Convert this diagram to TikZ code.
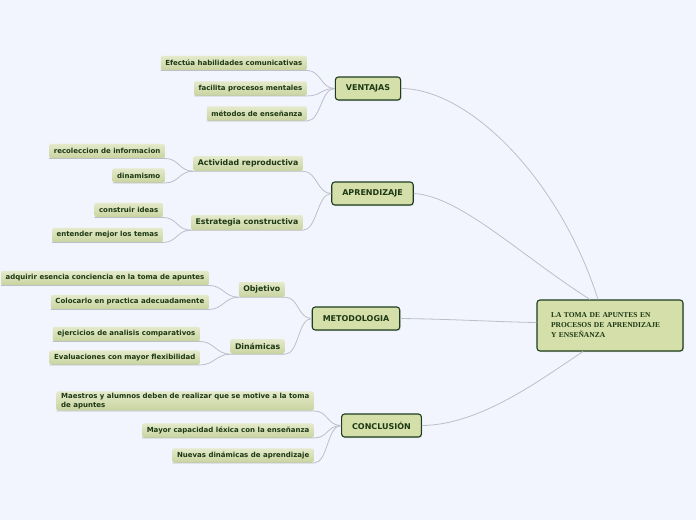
\documentclass[tikz,border=0pt]{standalone}
\usepackage{fontspec}
\setmainfont{DejaVu Sans}
\newfontfamily\titlefont{Liberation Serif}
\usepackage{tikz}
\usetikzlibrary{positioning,shadows}

\definecolor{paper}{HTML}{F2F5FD}
\definecolor{topicfill}{HTML}{D5DFA9}
\definecolor{topicdraw}{HTML}{1E3D1E}
\definecolor{leaftop}{HTML}{E4EACB}
\definecolor{leafbot}{HTML}{C9D39F}
\definecolor{ink}{HTML}{1C3814}
\definecolor{linkgray}{HTML}{BBBFC8}

\begin{document}
\begin{tikzpicture}[
    x=1pt, y=1pt,
    topic/.style={rectangle, draw=topicdraw, line width=1.1pt, fill=topicfill, rounded corners=3pt, minimum height=23pt, inner xsep=10.5pt, text=ink, font=\fontsize{8}{9}\selectfont\bfseries, drop shadow={shadow xshift=1pt, shadow yshift=-1pt, opacity=0.25}},
    central/.style={topic, minimum width=146pt, minimum height=51pt, text width=118pt, align=left, font=\titlefont\fontsize{7.5}{10}\selectfont\bfseries},
    subtopic/.style={rectangle, rounded corners=2pt, top color=leaftop, bottom color=leafbot, minimum height=15pt, inner xsep=4.5pt, inner ysep=2pt, text=ink, font=\fontsize{7.8}{9}\selectfont\bfseries},
    leaf/.style={subtopic, minimum height=14.5pt, font=\fontsize{7}{8.7}\selectfont\bfseries},
    link/.style={draw=linkgray, line width=0.8pt}
]
    \useasboundingbox (0,0) rectangle (696,-520);
    \fill[paper] (0,0) rectangle (696,-520);

    % central and main topics
    \node (lt) [central] at (610,-325.5) {LA TOMA DE APUNTES EN\\PROCESOS DE APRENDIZAJE\\Y ENSEÑANZA};
    \node (ventajas) [topic] at (368,-88.5) {VENTAJAS};
    \node (aprendizaje) [topic] at (372.5,-193.5) {APRENDIZAJE};
    \node (metodologia) [topic] at (356,-318.5) {METODOLOGIA};
    \node (conclusion) [topic] at (381.5,-425.5) {CONCLUSIÓN};

    % ventajas
    \node (v1) [leaf, anchor=east] at (307,-63) {Efectúa habilidades comunicativas};
    \node (v2) [leaf, anchor=east] at (307,-88.5) {facilita procesos mentales};
    \node (v3) [leaf, anchor=east] at (307,-113.5) {métodos de enseñanza};

    % aprendizaje
    \node (ar) [subtopic, anchor=east] at (303,-163.5) {Actividad reproductiva};
    \node (ec) [subtopic, anchor=east] at (303,-222.5) {Estrategia constructiva};
    \node (r1) [leaf, anchor=east] at (165,-151) {recoleccion de informacion};
    \node (r2) [leaf, anchor=east] at (165,-175.5) {dinamismo};
    \node (c1) [leaf, anchor=east] at (163,-210) {construir ideas};
    \node (c2) [leaf, anchor=east] at (163,-235) {entender mejor los temas};

    % metodologia
    \node (obj) [subtopic, anchor=east] at (285,-289.5) {Objetivo};
    \node (din) [subtopic, anchor=east] at (285,-346.5) {Dinámicas};
    \node (o1) [leaf, anchor=east] at (209,-278) {adquirir esencia conciencia en la toma de apuntes};
    \node (o2) [leaf, anchor=east] at (209,-302) {Colocarlo en practica adecuadamente};
    \node (d1) [leaf, anchor=east] at (200,-334) {ejercicios de analisis comparativos};
    \node (d2) [leaf, anchor=east] at (200,-357.5) {Evaluaciones con mayor flexibilidad};

    % conclusion
    \node (m1) [leaf, anchor=east, align=left] at (314,-401) {Maestros y alumnos deben de realizar que se motive a la toma\\de apuntes};
    \node (m2) [leaf, anchor=east] at (314,-430.5) {Mayor capacidad léxica con la enseñanza};
    \node (m3) [leaf, anchor=east] at (314,-455.5) {Nuevas dinámicas de aprendizaje};

    % links to the centre
    \draw [link] (ventajas.east) .. controls (470,-89) and (560,-180) .. ([xshift=-12pt]lt.north);
    \draw [link] (aprendizaje.east) .. controls (460,-196) and (520,-255) .. ([xshift=-20pt]lt.north);
    \draw [link] (metodologia.east) .. controls (450,-319) and (500,-322) .. ([yshift=3pt]lt.west);
    \draw [link] (conclusion.east) .. controls (480,-425) and (540,-380) .. ([xshift=-27pt]lt.south);

    % links to the main topics
    \foreach \leafname in {v1,v2,v3}
        \draw [link] (\leafname.south west) -- (\leafname.south east) .. controls +(14,0) and +(-14,0) .. (ventajas.west);
    \foreach \leafname in {ar,ec}
        \draw [link] (\leafname.south west) -- (\leafname.south east) .. controls +(14,0) and +(-14,0) .. (aprendizaje.west);
    \foreach \leafname in {obj,din}
        \draw [link] (\leafname.south west) -- (\leafname.south east) .. controls +(14,0) and +(-14,0) .. (metodologia.west);
    \foreach \leafname in {m1,m2,m3}
        \draw [link] (\leafname.south west) -- (\leafname.south east) .. controls +(14,0) and +(-14,0) .. (conclusion.west);

    % links to the subtopics
    \foreach \leafname in {r1,r2}
        \draw [link] (\leafname.south west) -- (\leafname.south east) .. controls +(14,0) and +(-14,0) .. (ar.south west);
    \foreach \leafname in {c1,c2}
        \draw [link] (\leafname.south west) -- (\leafname.south east) .. controls +(14,0) and +(-14,0) .. (ec.south west);
    \foreach \leafname in {o1,o2}
        \draw [link] (\leafname.south west) -- (\leafname.south east) .. controls +(14,0) and +(-14,0) .. (obj.south west);
    \foreach \leafname in {d1,d2}
        \draw [link] (\leafname.south west) -- (\leafname.south east) .. controls +(14,0) and +(-14,0) .. (din.south west);
\end{tikzpicture}
\end{document}
